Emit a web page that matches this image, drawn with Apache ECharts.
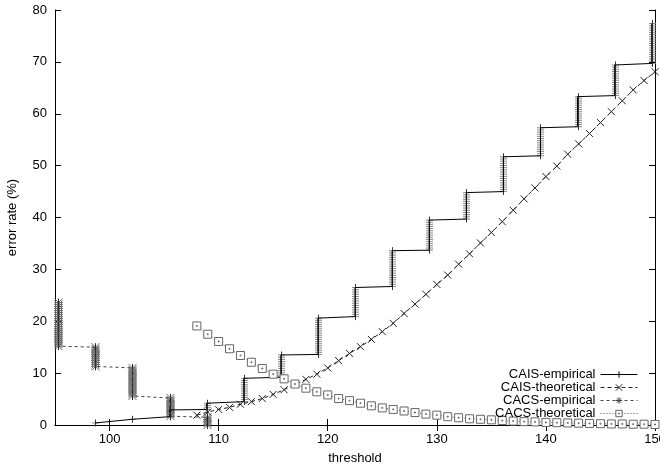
<!DOCTYPE html>
<html>
<head>
<meta charset="utf-8">
<script src="https://cdn.jsdelivr.net/npm/echarts@6/dist/echarts.min.js"></script>
<style>
html, body { margin: 0; padding: 0; background: #fff; }
#chart { width: 660px; height: 465px; }
</style>
</head>
<body>
<div id="chart"></div>
<script>
// CAIS empirical: each step is a column of points from lo to hi
var caisEmpX  = [98.7, 102.1, 105.5, 108.9, 112.3, 115.7, 119.1, 122.5, 125.9, 129.3, 132.7, 136.1, 139.5, 142.9, 146.3, 149.7];
var caisEmpLo = [0.4, 1.1, 1.6, 3.0, 4.5, 9.2, 13.6, 20.9, 26.7, 33.7, 39.7, 45.0, 51.9, 57.5, 63.5, 69.7];
var caisEmpHi = [0.4, 1.1, 2.9, 4.2, 9.0, 13.5, 20.6, 26.5, 33.6, 39.5, 44.8, 51.7, 57.3, 63.3, 69.4, 77.4];

// CACS empirical: columns run downwards from hi to lo
var cacsEmpX  = [95.3, 98.7, 102.1, 105.5, 108.9];
var cacsEmpHi = [23.6, 15.0, 11.0, 5.2, 1.5];
var cacsEmpLo = [15.2, 11.3, 5.6, 1.7, 0];

// theoretical curves, one value per integer threshold
var theoX = [108, 109, 110, 111, 112, 113, 114, 115, 116, 117, 118, 119, 120, 121, 122, 123, 124, 125, 126, 127, 128,
             129, 130, 131, 132, 133, 134, 135, 136, 137, 138, 139, 140, 141, 142, 143, 144, 145, 146, 147, 148, 149, 150];
var caisTheo = [1.9, 2.5, 3.0, 3.4, 4.0, 4.5, 5.1, 5.9, 6.8, 7.8, 8.8, 9.8, 11.0, 12.4, 13.8, 15.1, 16.5, 18.0, 19.6, 21.5, 23.3,
                25.2, 27.1, 28.9, 31.0, 33.0, 35.1, 37.1, 39.2, 41.4, 43.6, 45.7, 47.9, 49.9, 52.2, 54.2, 56.2, 58.3, 60.4, 62.5, 64.6, 66.4, 68.1];
var cacsTheo = [19.1, 17.5, 16.1, 14.7, 13.4, 12.1, 10.9, 9.8, 8.9, 7.9, 7.1, 6.4, 5.8, 5.1, 4.7, 4.2, 3.7, 3.3, 3.0, 2.7, 2.4,
                2.1, 1.9, 1.6, 1.4, 1.2, 1.1, 1.0, 0.85, 0.75, 0.65, 0.6, 0.5, 0.45, 0.4, 0.35, 0.3, 0.25, 0.2, 0.2, 0.15, 0.15, 0.1];

var xTickLabels = [100, 110, 120, 130, 140, 150];

var FONT = 'Liberation Sans';

function stepPath(xs, a, b) {
	var out = [];
	for (var i = 0; i < xs.length; i++) {
		out.push([xs[i], a[i]]);
		out.push([xs[i], b[i]]);
	}
	return out;
}
function pairs(xs, ys) {
	return xs.map(function (x, i) { return [x, ys[i]]; });
}
function columns(xs, a, b) {
	return xs.map(function (x, i) { return [x, a[i], b[i]]; });
}

// draws a stack of glyphs between two values at the same threshold
function columnItem(star, half, gap, hatch, core) {
	return function (params, api) {
		var p1 = api.coord([api.value(0), api.value(1)]);
		var p2 = api.coord([api.value(0), api.value(2)]);
		var x = Math.round(p1[0]) + 0.5;
		var y0 = Math.max(p1[1], p2[1]), y1 = Math.min(p1[1], p2[1]);
		var n = Math.max(1, Math.round((y0 - y1) / gap) + 1);
		var step = n > 1 ? (y0 - y1) / (n - 1) : 0;
		var d = '';
		for (var k = 0; k < n; k++) {
			var y = y0 - k * step;
			d += 'M' + (x - half) + ',' + y + 'L' + (x + half) + ',' + y;
			if (star) {
				d += 'M' + (x - half) + ',' + (y - half) + 'L' + (x + half) + ',' + (y + half);
				d += 'M' + (x - half) + ',' + (y + half) + 'L' + (x + half) + ',' + (y - half);
			}
		}
		var c = 'M' + x + ',' + (y0 + half) + 'L' + x + ',' + (y1 - half);
		return {
			type: 'group',
			children: [
				{ type: 'path', shape: { pathData: d }, style: { fill: null, stroke: hatch, lineWidth: 1 } },
				{ type: 'path', shape: { pathData: c }, style: { fill: null, stroke: core, lineWidth: 1 } }
			]
		};
	};
}

var chart = echarts.init(document.getElementById('chart'));
chart.setOption({
	animation: false,
	backgroundColor: '#fff',
	grid: { left: 55, right: 5, top: 10, bottom: 40, outerBoundsMode: 'none', containLabel: false },
	legend: {
		data: ['CAIS-empirical', 'CAIS-theoretical', 'CACS-empirical', 'CACS-theoretical'],
		orient: 'vertical',
		right: 22,
		bottom: 45,
		align: 'right',
		padding: 0,
		itemGap: 0,
		itemWidth: 37,
		itemHeight: 8,
		selectedMode: false,
		lineStyle: { width: 1 },
		itemStyle: { borderWidth: 1 },
		textStyle: { fontFamily: FONT, fontSize: 13, color: '#000', lineHeight: 13 }
	},
	xAxis: [
		{
			type: 'value',
			min: 95,
			max: 150,
			name: 'threshold',
			nameLocation: 'middle',
			nameGap: 27,
			nameTextStyle: { fontFamily: FONT, fontSize: 13, color: '#000' },
			splitLine: { show: false },
			axisLine: { lineStyle: { color: '#000', width: 1 } },
			axisTick: { inside: true, length: 6, customValues: xTickLabels, lineStyle: { color: '#000' } },
			axisLabel: { customValues: xTickLabels, fontFamily: FONT, fontSize: 13, color: '#000', margin: 8 }
		},
		{
			type: 'value',
			position: 'top',
			min: 95,
			max: 150,
			splitLine: { show: false },
			axisLine: { lineStyle: { color: '#000', width: 1 } },
			axisTick: { inside: true, length: 6, customValues: xTickLabels, lineStyle: { color: '#000' } },
			axisLabel: { show: false }
		}
	],
	yAxis: [
		{
			type: 'value',
			min: 0,
			max: 80,
			interval: 10,
			name: 'error rate (%)',
			nameLocation: 'middle',
			nameGap: 36,
			nameTextStyle: { fontFamily: FONT, fontSize: 13, color: '#000' },
			splitLine: { show: false },
			axisLine: { show: true, lineStyle: { color: '#000', width: 1 } },
			axisTick: { show: true, inside: true, length: 6, lineStyle: { color: '#000' } },
			axisLabel: { fontFamily: FONT, fontSize: 13, color: '#000', margin: 8 }
		},
		{
			type: 'value',
			position: 'right',
			min: 0,
			max: 80,
			interval: 10,
			splitLine: { show: false },
			axisLine: { show: true, lineStyle: { color: '#000', width: 1 } },
			axisTick: { show: true, inside: true, length: 6, lineStyle: { color: '#000' } },
			axisLabel: { show: false }
		}
	],
	series: [
		{
			name: 'cais-columns',
			type: 'custom',
			renderItem: columnItem(false, 3.5, 2.2, '#888', '#333'),
			encode: { x: 0, y: [1, 2] },
			data: columns(caisEmpX, caisEmpLo, caisEmpHi),
			silent: true,
			z: 1
		},
		{
			name: 'cacs-columns',
			type: 'custom',
			renderItem: columnItem(true, 4, 2, '#666', '#222'),
			encode: { x: 0, y: [1, 2] },
			data: columns(cacsEmpX, cacsEmpHi, cacsEmpLo),
			silent: true,
			z: 1
		},
		{
			name: 'CAIS-empirical',
			type: 'line',
			data: stepPath(caisEmpX, caisEmpLo, caisEmpHi),
			showSymbol: false,
			symbol: 'path://M0,5L10,5M5,0L5,10',
			symbolSize: 7,
			itemStyle: { color: '#000', borderColor: '#000', borderWidth: 1 },
			lineStyle: { color: '#000', width: 1 },
			z: 2
		},
		{
			name: 'CAIS-theoretical',
			type: 'line',
			data: pairs(theoX, caisTheo),
			symbol: 'path://M0,0L10,10M10,0L0,10',
			symbolSize: 7,
			itemStyle: { color: '#222', borderColor: '#222', borderWidth: 1 },
			lineStyle: { color: '#222', width: 1, type: [4, 3] },
			z: 3
		},
		{
			name: 'CACS-empirical',
			type: 'line',
			data: stepPath(cacsEmpX, cacsEmpHi, cacsEmpLo),
			showSymbol: false,
			symbol: 'path://M0,5L10,5M5,0L5,10M1.5,1.5L8.5,8.5M1.5,8.5L8.5,1.5',
			symbolSize: 7,
			itemStyle: { color: '#444', borderColor: '#444', borderWidth: 1 },
			lineStyle: { color: '#444', width: 1, type: [3, 3] },
			z: 2
		},
		{
			name: 'CACS-theoretical',
			type: 'line',
			data: pairs(theoX, cacsTheo),
			symbol: 'path://M0,0L10,0L10,10L0,10Z M4.4,4.4L5.6,4.4L5.6,5.6L4.4,5.6Z',
			symbolSize: 8,
			itemStyle: { color: '#fff', borderColor: '#666', borderWidth: 1 },
			lineStyle: { color: '#555', width: 1, type: [1, 2] },
			z: 3
		}
	]
});
</script>
</body>
</html>
